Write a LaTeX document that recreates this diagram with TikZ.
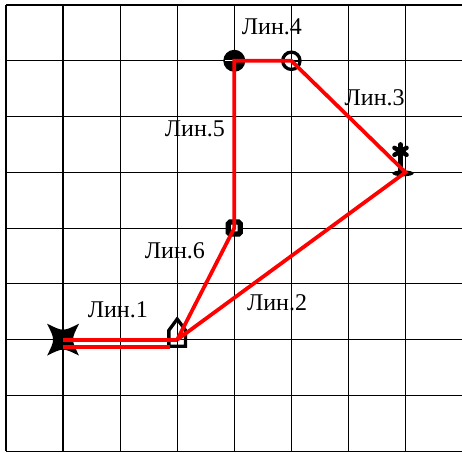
\documentclass[tikz,border=0pt]{standalone}
\usepackage{fontspec}
\setmainfont{Liberation Serif}
\usepackage{tikz}
\tikzset{
  grid line/.style={line width=1pt, black},     % thin grid
  red line/.style={line width=3.2pt, red},      % route
  lin label/.style={font=\fontsize{20.5}{24}\selectfont, inner sep=0pt}
}

\begin{document}
\begin{tikzpicture}[x=1.713cm, y=1.674cm]
    \useasboundingbox (-0.105,-0.018) rectangle (7.99,8.09);

    % Draw the grid
    \foreach \i in {0,...,7} \draw[grid line] (\i,0) -- (\i,8);
    \foreach \j in {0,...,8} \draw[grid line] (0,\j) -- (8,\j);

    % Vertices of the route
    \coordinate (v1) at (1,2); % star
    \coordinate (v2) at (3,2); % house
    \coordinate (v3) at (4,4); % square
    \coordinate (v4) at (4,7); % filled circle
    \coordinate (v5) at (5,7); % open circle
    \coordinate (v6) at (7,5); % asterisk

    % Symbols at the vertices
    \begin{scope}[shift={(v1)}, x=1cm, y=1cm]
      \fill (-0.48,0.48) .. controls (0,0.24) .. (0.48,0.48)
        .. controls (0.24,0) .. (0.48,-0.48)
        .. controls (0,-0.24) .. (-0.48,-0.48)
        .. controls (-0.24,0) .. (-0.48,0.48) -- cycle;
    \end{scope}
    \begin{scope}[shift={(v2)}, x=1cm, y=1cm]
      \draw[line width=2.8pt, line join=miter] (-0.25,-0.2) -- (0.25,-0.2)
        -- (0.25,0.28) -- (0,0.62) -- (-0.25,0.28) -- cycle;
    \end{scope}
    \draw[line width=4.5pt, rounded corners=1.5pt, fill=white]
      ([shift={(-0.18cm,-0.18cm)}]v3) rectangle ([shift={(0.18cm,0.18cm)}]v3);
    \fill (v4) circle (0.33cm);
    \draw[white, line width=1.2pt] ([xshift=-0.28cm]v4) -- (v4);
    \draw[line width=2.8pt] (v5) circle (0.26cm);
    \draw[line width=2pt] ([xshift=-0.3cm]v5) -- ([xshift=0.3cm]v5);
    \begin{scope}[shift={(v6)}, x=1cm, y=1cm]
      \fill (-0.075,-0.03) ellipse (0.32 and 0.09);
      \draw[line width=4pt] (-0.15,0) -- (-0.15,0.63);
      \foreach \a in {90,30,-30,-90,150,210}
        \draw[line width=3.8pt, line cap=round] (-0.15,0.63) -- ++(\a:0.21);
    \end{scope}

    % Route lines
    \draw[red line] (v1) -- (v2);
    \draw[red line] ([yshift=-0.21cm]v1) -- ([shift={(-0.21cm,-0.21cm)}]v2);
    \draw[red line, line join=miter] (v2) -- (v6) -- (v5) -- (v4) -- (v3) -- (v2);

    % Labels
    \node[lin label] (l1) at (1.96,2.53) {Лин.1};
    \node[lin label] (l2) at (4.75,2.66) {Лин.2};
    \node[lin label] (l3) at (6.46,6.33) {Лин.3};
    \node[lin label] (l4) at (4.66,7.61) {Лин.4};
    \node[lin label] (l5) at (3.31,5.78) {Лин.5};
    \node[lin label] (l6) at (2.96,3.59) {Лин.6};
\end{tikzpicture}
\end{document}
